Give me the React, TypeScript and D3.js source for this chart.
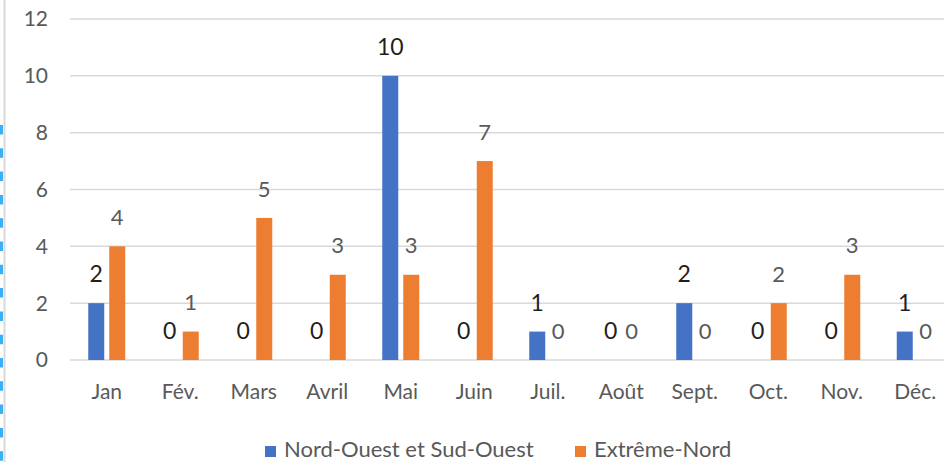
import React, { useEffect, useRef } from "react";
import * as d3 from "d3";

const months = ["Jan", "Fév.", "Mars", "Avril", "Mai", "Juin", "Juil.", "Août", "Sept.", "Oct.", "Nov.", "Déc."];
const seriesNames = ["Nord-Ouest et Sud-Ouest", "Extrême-Nord"];
const nordOuestSudOuest = [2, 0, 0, 0, 10, 0, 1, 0, 2, 0, 0, 1];
const extremeNord = [4, 1, 5, 3, 3, 7, 0, 0, 0, 2, 3, 0];
const yTicks = [0, 2, 4, 6, 8, 10, 12];

const colors = ["#4472C4", "#ED7D31"];
const labelColors = ["#1f1f1f", "#595959"];
const FONT = "Lato, 'Open Sans', sans-serif";

export default function App() {
  const svgRef = useRef<SVGSVGElement>(null);

  useEffect(() => {
    const width = 944;
    const height = 462;
    const svg = d3.select(svgRef.current);
    svg.selectAll("*").remove();

    // ---------------- scales ----------------
    const x0 = d3.scaleBand().domain(months).range([70, 952]).padding(0);
    const bw = x0.bandwidth();
    const x1 = d3
      .scaleBand()
      .domain(seriesNames)
      .range([bw / 2 - 18.5, bw / 2 + 18.5])
      .paddingInner(5 / 21);
    const y = d3.scaleLinear().domain([0, 12]).range([360, 19]);

    // ---------------- frame at left ----------------
    svg.append("line")
      .attr("x1", 4.5).attr("x2", 4.5)
      .attr("y1", 0).attr("y2", height)
      .attr("stroke", "#d9d9d9")
      .attr("stroke-width", 2);
    svg.append("line")
      .attr("x1", 1.5).attr("x2", 1.5)
      .attr("y1", 125).attr("y2", height)
      .attr("stroke", "#3ab0f5")
      .attr("stroke-width", 3)
      .attr("stroke-dasharray", "9.5 13.8");

    // ---------------- grid + y labels ----------------
    yTicks.forEach(t => {
      svg.append("line")
        .attr("x1", 70).attr("x2", width)
        .attr("y1", y(t)).attr("y2", y(t))
        .attr("stroke", "#d9d9d9")
        .attr("stroke-width", 1.5);
      svg.append("text")
        .attr("x", 48).attr("y", y(t))
        .attr("dy", "0.35em")
        .attr("text-anchor", "end")
        .attr("font-family", FONT)
        .attr("font-size", 21)
        .attr("fill", "#595959")
        .text(t);
    });

    // ---------------- bars ----------------
    const series = [nordOuestSudOuest, extremeNord];
    series.forEach((vals, si) => {
      const g = svg.append("g");
      g.selectAll("rect")
        .data(vals)
        .join("rect")
        .attr("x", (_, i) => (x0(months[i]) as number) + (x1(seriesNames[si]) as number))
        .attr("y", d => y(d))
        .attr("width", x1.bandwidth())
        .attr("height", d => y(0) - y(d))
        .attr("fill", colors[si]);
      g.selectAll("text")
        .data(vals)
        .join("text")
        .attr("x", (_, i) => (x0(months[i]) as number) + (x1(seriesNames[si]) as number) + x1.bandwidth() / 2)
        .attr("y", d => y(d) - 29)
        .attr("dy", "0.35em")
        .attr("text-anchor", "middle")
        .attr("font-family", FONT)
        .attr("font-size", si === 0 ? 23 : 22)
        .attr("fill", labelColors[si])
        .text(d => d);
    });

    // ---------------- x labels ----------------
    svg.append("g")
      .selectAll("text")
      .data(months)
      .join("text")
      .attr("x", d => (x0(d) as number) + bw / 2)
      .attr("y", 392)
      .attr("dy", "0.35em")
      .attr("text-anchor", "middle")
      .attr("font-family", FONT)
      .attr("font-size", 21)
      .attr("fill", "#595959")
      .text(d => d);

    // ---------------- legend ----------------
    const legendX = [265, 575];
    seriesNames.forEach((name, i) => {
      svg.append("rect")
        .attr("x", legendX[i]).attr("y", 446)
        .attr("width", 11).attr("height", 11)
        .attr("fill", colors[i]);
      svg.append("text")
        .attr("x", legendX[i] + 19).attr("y", 449)
        .attr("dy", "0.35em")
        .attr("font-family", FONT)
        .attr("font-size", 22)
        .attr("fill", "#595959")
        .text(name);
    });
  }, []);

  return (
    <svg
      ref={svgRef}
      width={944}
      height={462}
      style={{ position: "absolute", left: 0, top: 0, background: "#fff" }}
    />
  );
}
